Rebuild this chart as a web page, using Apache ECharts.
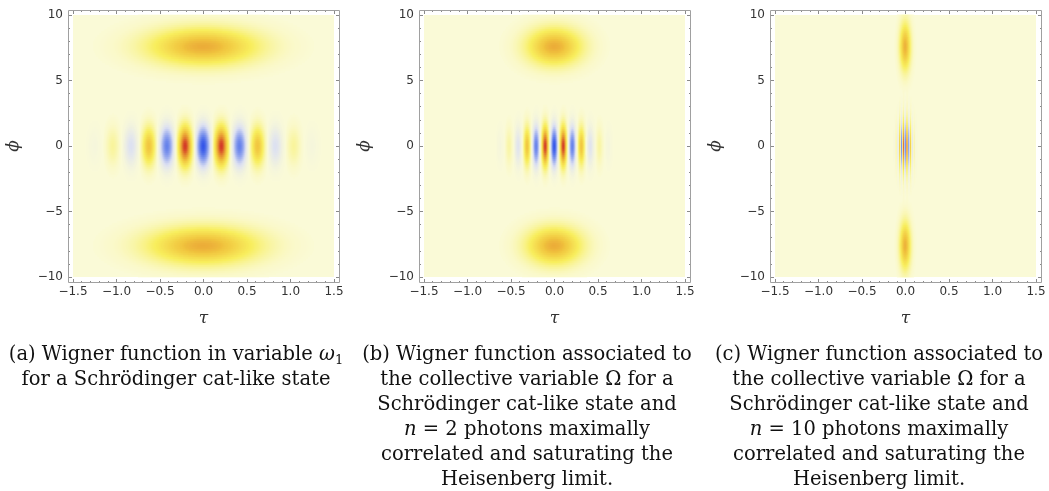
<!DOCTYPE html>
<html>
<head>
<meta charset="utf-8">
<script src="https://cdn.jsdelivr.net/npm/echarts@6/dist/echarts.min.js"></script>
<style>
html, body { margin: 0; padding: 0; background: #fff; }
#main { width: 1049px; height: 491px; }
</style>
</head>
<body>
<div id="main"></div>
<script>
// tick labels
var tauTicks = [-1.5, -1.0, -0.5, 0.0, 0.5, 1.0, 1.5];
var phiTicks = [-10, -5, 0, 5, 10];

// interference stripes on the phi = 0 line (tau position, value)
var stripeTauA = [-1.25, -1.04, -0.83, -0.625, -0.417, -0.208, 0, 0.208, 0.417, 0.625, 0.83, 1.04, 1.25];
var stripeValA = [-0.04, 0.12, -0.25, 0.5, -0.72, 0.95, -0.95, 0.95, -0.72, 0.5, -0.25, 0.12, -0.04];
var stripeTauB = [-0.625, -0.52, -0.415, -0.312, -0.208, -0.104, 0, 0.104, 0.208, 0.312, 0.415, 0.52, 0.625];
var stripeValB = [-0.04, 0.1, -0.22, 0.5, -0.72, 0.95, -0.95, 0.95, -0.72, 0.5, -0.22, 0.1, -0.04];
var stripeTauC = [-0.125, -0.104, -0.083, -0.0625, -0.042, -0.021, 0, 0.021, 0.042, 0.0625, 0.083, 0.104, 0.125];
var stripeValC = [-0.04, 0.1, -0.22, 0.5, -0.72, 0.95, -0.95, 0.95, -0.72, 0.5, -0.22, 0.1, -0.04];

// the two lobes on the tau = 0 line (phi position, value)
var lobePhiA = [7.6, -7.6];
var lobeValA = [0.6, 0.6];
var lobePhiB = [7.6, -7.6];
var lobeValB = [0.6, 0.6];
var lobePhiC = [7.6, -7.6];
var lobeValC = [0.58, 0.58];

// captions
var captions = [
  '(a) Wigner function in variable {i|ω}{s|1}\nfor a Schrödinger cat-like state',
  '(b) Wigner function associated to\nthe collective variable Ω for a\nSchrödinger cat-like state and\n{i|n} = 2 photons maximally\ncorrelated and saturating the\nHeisenberg limit.',
  '(c) Wigner function associated to\nthe collective variable Ω for a\nSchrödinger cat-like state and\n{i|n} = 10 photons maximally\ncorrelated and saturating the\nHeisenberg limit.'
];

// spread of each spot (gaussian sd, in axis units)
var spread = [
  { sTau: 0.052, sPhi: 1.0, lTau: 0.42, lPhi: 0.95, nx: 261 },
  { sTau: 0.026, sPhi: 1.0, lTau: 0.21, lPhi: 0.95, nx: 261 },
  { sTau: 0.0052, sPhi: 1.25, lTau: 0.042, lPhi: 1.2, nx: 783 }
];
var NY = 131;

var stripes = [[stripeTauA, stripeValA], [stripeTauB, stripeValB], [stripeTauC, stripeValC]];
var lobes = [[lobePhiA, lobeValA], [lobePhiB, lobeValB], [lobePhiC, lobeValC]];

function buildPanel(k) {
  var sp = spread[k], st = stripes[k], lb = lobes[k];
  var taus = [], phis = [], cells = [];
  var tMin = tauTicks[0], tMax = tauTicks[tauTicks.length - 1];
  var pMin = phiTicks[0], pMax = phiTicks[phiTicks.length - 1];
  var colS = [], colL = [], rowS = [], rowL = [];
  for (var i = 0; i < sp.nx; i++) {
    var t = tMin + (i + 0.5) * (tMax - tMin) / sp.nx;
    taus.push(t.toFixed(4));
    var s = 0;
    for (var m = 0; m < st[0].length; m++) {
      var d = (t - st[0][m]) / sp.sTau;
      s += st[1][m] * Math.exp(-0.5 * d * d);
    }
    colS.push(s);
    colL.push(Math.exp(-0.5 * (t / sp.lTau) * (t / sp.lTau)));
  }
  for (var j = 0; j < NY; j++) {
    var f = pMin + (j + 0.5) * (pMax - pMin) / NY;
    phis.push(f.toFixed(3));
    rowS.push(Math.exp(-0.5 * (f / sp.sPhi) * (f / sp.sPhi)));
    var l = 0;
    for (var m2 = 0; m2 < lb[0].length; m2++) {
      var e = (f - lb[0][m2]) / sp.lPhi;
      l += lb[1][m2] * Math.exp(-0.5 * e * e);
    }
    rowL.push(l);
  }
  for (var a = 0; a < sp.nx; a++) {
    for (var b = 0; b < NY; b++) {
      var v = colS[a] * rowS[b] + colL[a] * rowL[b];
      if (Math.abs(v) > 0.006) cells.push([a, b, v]);
    }
  }
  return { taus: taus, phis: phis, cells: cells };
}

var boxes = [
  { left: 73, top: 15, width: 261, height: 262, cx: 176 },
  { left: 424, top: 15, width: 261, height: 262, cx: 527 },
  { left: 775, top: 15, width: 261, height: 262, cx: 879 }
];

var tickColor = '#8a8a8a';
var labelFont = { color: '#333', fontFamily: 'DejaVu Sans', fontSize: 12 };
var nameFont = { color: '#333', fontFamily: 'DejaVu Serif', fontStyle: 'italic', fontSize: 17 };
function minus(s) { return String(s).replace('-', '\u2212'); }

var grids = [], xAxes = [], yAxes = [], series = [], graphics = [];
boxes.forEach(function (bx, k) {
  var p = buildPanel(k);
  grids.push({ left: bx.left, top: bx.top, width: bx.width, height: bx.height,
    show: true, backgroundColor: '#fafad7', borderWidth: 0 });
  var tickBase = {
    axisLine: { show: false, onZero: false },
    axisTick: { show: true, inside: true, length: 4, lineStyle: { color: tickColor } },
    minorTick: { show: true, splitNumber: 5, length: 2, lineStyle: { color: tickColor } },
    splitLine: { show: false }
  };
  xAxes.push({ type: 'category', gridIndex: k, data: p.taus, show: false });
  xAxes.push(Object.assign({
    type: 'value', gridIndex: k, position: 'bottom', offset: 6,
    min: tauTicks[0], max: tauTicks[tauTicks.length - 1], interval: 0.5,
    axisLabel: Object.assign({ margin: 3, formatter: function (v) { return minus(v.toFixed(1)); } }, labelFont),
    name: 'τ', nameLocation: 'middle', nameGap: 27, nameTextStyle: nameFont
  }, tickBase));
  xAxes.push(Object.assign({
    type: 'value', gridIndex: k, position: 'top', offset: 5,
    min: tauTicks[0], max: tauTicks[tauTicks.length - 1], interval: 0.5,
    axisLabel: { show: false }
  }, tickBase));
  yAxes.push({ type: 'category', gridIndex: k, data: p.phis, show: false });
  yAxes.push(Object.assign({
    type: 'value', gridIndex: k, position: 'left', offset: 5,
    min: phiTicks[0], max: phiTicks[phiTicks.length - 1], interval: 5,
    axisLabel: Object.assign({ margin: 5, formatter: function (v) { return minus(v); } }, labelFont),
    name: 'ϕ', nameLocation: 'middle', nameRotate: 90, nameGap: 46, nameTextStyle: nameFont
  }, tickBase));
  yAxes.push(Object.assign({
    type: 'value', gridIndex: k, position: 'right', offset: 6,
    min: phiTicks[0], max: phiTicks[phiTicks.length - 1], interval: 5,
    axisLabel: { show: false }
  }, tickBase));
  series.push({
    type: 'heatmap', xAxisIndex: 3 * k, yAxisIndex: 3 * k, data: p.cells,
    progressive: 0, itemStyle: { borderWidth: 0 }, emphasis: { disabled: true }, silent: true
  });
  graphics.push({
    type: 'rect', silent: true, z: 10,
    shape: { x: bx.left - 4.5, y: bx.top - 4.5, width: bx.width + 10, height: bx.height + 10 },
    style: { fill: 'none', stroke: '#a0a0a0', lineWidth: 1 }
  });
  graphics.push({
    type: 'text', silent: true, x: bx.cx, y: 342,
    style: {
      text: captions[k], align: 'center', verticalAlign: 'top',
      fontFamily: 'DejaVu Serif', fontSize: 19.5, lineHeight: 25, fill: '#111',
      rich: {
        i: { fontFamily: 'DejaVu Serif', fontStyle: 'italic', fontSize: 19.5, lineHeight: 25 },
        s: { fontFamily: 'DejaVu Serif', fontSize: 13, lineHeight: 16, verticalAlign: 'bottom' }
      }
    }
  });
});

var myChart = echarts.init(document.getElementById('main'));
var option = {
  animation: false,
  grid: grids,
  xAxis: xAxes,
  yAxis: yAxes,
  visualMap: {
    show: false, min: -1, max: 1, dimension: 2, seriesIndex: [0, 1, 2],
    inRange: { color: ['#2a4ce8', '#5f7cea', '#9aabee', '#dde1f1', '#fafad7', '#f8ee5e', '#f1c640', '#e38a32', '#cf2626'] }
  },
  series: series,
  graphic: graphics
};
myChart.setOption(option);
</script>
</body>
</html>
